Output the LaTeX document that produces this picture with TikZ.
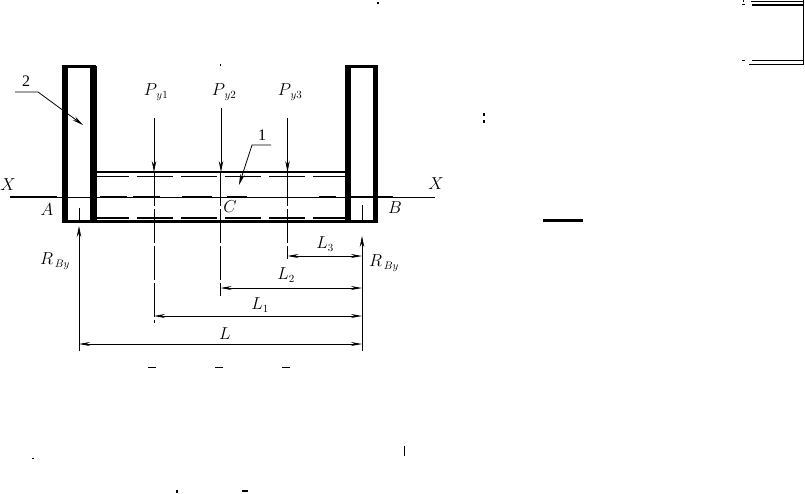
\documentclass[tikz,border=0pt]{standalone}
\usepackage{amsmath}
\usepackage{fontspec}
\setmainfont{Liberation Serif}
\usepackage{tikz}
\usetikzlibrary{
  arrows.meta,
  positioning,
  calc
}

\begin{document}
\begin{tikzpicture}[
    x=1pt,
    y=-1pt,
    font=\fontsize{16}{18}\selectfont,
    label/.style={inner sep=0pt},
    wall/.style={line width=5.5pt},
    tube/.style={line width=2.8pt},
    hidden/.style={line width=1.5pt, dash pattern=on 36pt off 8pt},
    thin line/.style={line width=0.8pt},
    axis bar/.style={line width=1.4pt},
    center/.style={line width=0.8pt, dash pattern=on 34pt off 3pt},
    load/.style={line width=0.8pt, -{Stealth[length=11pt,width=4.5pt]}},
    dim/.style={line width=0.8pt, {Stealth[length=11pt,width=4pt]}-{Stealth[length=11pt,width=4pt]}},
    speck/.style={line width=1.4pt}
]
\useasboundingbox (0,0) rectangle (805,493);

% ----------------------------------------------------------
% WALLS AND TUBE
% ----------------------------------------------------------

\draw[wall] (65,66.5) -- (65,221.5);
\draw[wall, line width=6.5pt] (93.5,66) -- (93.5,221.5);
\draw[wall, line width=3pt] (62,66.5) -- (96,66.5);
\draw[wall, line width=6.5pt] (348,66) -- (348,221.5);
\draw[wall] (375.5,66) -- (375.5,221.5);
\draw[wall, line width=3pt] (345,66.5) -- (378,66.5);

\draw[tube] (96,172) -- (345,172);
\draw[tube, line width=3pt] (62,221.5) -- (378,221.5);
\draw[hidden] (93,176.5) -- (345,176.5);
\draw[hidden] (93,218) -- (345,218);

% ----------------------------------------------------------
% AXIS
% ----------------------------------------------------------

\coordinate (axisL) at (10,197);
\coordinate (axisR) at (435,197);
\draw[thin line] (axisL) -- (axisR);
\foreach \xa/\xb in {10/57, 100/127, 133/160, 182/212, 227/247, 319/336, 350/393}
    \draw[axis bar] (\xa,197) -- (\xb,197);

% ----------------------------------------------------------
% LOADS
% ----------------------------------------------------------

\node[label] (py1) at (156,92) {$P_{\,y1}$};
\node[label] (py2) at (224,92) {$P_{\,y2}$};
\node[label] (py3) at (290,92) {$P_{\,y3}$};

\coordinate (load1) at (154,118);
\coordinate (load2) at (221,108);
\coordinate (load3) at (287.5,118);
\draw[load] (load1) -- (154,172);
\draw[load] (load2) -- (221,172);
\draw[load] (load3) -- (287.5,172);

\draw[center] (154,172) -- (154,323);
\draw[center] (220.5,172) -- (220.5,296);
\draw[center] (287.5,172) -- (287.5,259);

% ----------------------------------------------------------
% REACTIONS
% ----------------------------------------------------------

\coordinate (reactA) at (79,351);
\coordinate (reactB) at (362,351);
\draw[thin line] (79,208) -- (79,221);
\draw[thin line] (362,205) -- (362,221);
\draw[load] (reactA) -- (79,226);
\draw[load] (reactB) -- (362,236);

\node[label] (rleft) at (55,261) {$R_{\,By}$};
\node[label] (rright) at (384,263) {$R_{\,By}$};

% ----------------------------------------------------------
% DIMENSIONS
% ----------------------------------------------------------

\draw[dim] (287.5,256) -- (362,256);
\draw[dim] (220.5,288) -- (362,288);
\draw[dim] (154,316) -- (362,316);
\draw[dim] (79,344) -- (362,344);

\node[label] (l3) at (325,244) {$L_3$};
\node[label] (l2) at (286,275) {$L_2$};
\node[label] (l1) at (260,305) {$L_1$};
\node[label] (l) at (225,334) {$L$};

% ----------------------------------------------------------
% LEADERS AND LETTERS
% ----------------------------------------------------------

\node[label] (two) at (26,81) {2};
\node[label] (one) at (262,135) {1};
\coordinate (lead2) at (15,92);
\coordinate (lead1) at (271,145);
\draw[load] (lead2) -- (38,92) -- (83,125);
\draw[load] (lead1) -- (252,145) -- (239,185);

\node[label] (xl) at (8,185) {$X$};
\node[label] (xr) at (436,184) {$X$};
\node[label] (a) at (47,210) {$A$};
\node[label] (b) at (395,208) {$B$};
\node[label] (c) at (230,207) {$C$};

% ----------------------------------------------------------
% EDGE MARKS
% ----------------------------------------------------------

\draw[line width=1pt] (751,1.5) -- (803,1.5);
\draw[line width=2.4pt] (752,5) -- (803,5);
\draw[line width=1pt] (803.5,0) -- (803.5,64.5);
\draw[line width=1pt] (752,60.5) -- (803,60.5);
\draw[line width=1pt] (749,64.5) -- (803,64.5);
\draw[speck] (742,4.5) -- (745,4.5);
\draw[speck] (742,60.5) -- (745,60.5);
\draw[speck] (743.5,0) -- (743.5,2);
\draw[line width=2.2pt] (543,220.5) -- (583,220.5);
\draw[speck] (484,113) -- (484,116);
\draw[speck] (484,120) -- (484,123);
\draw[speck] (404.5,446) -- (404.5,456);
\draw[speck] (32,458.5) -- (34,458.5);
\draw[speck] (177,490) -- (177,493);
\draw[speck] (242,491) -- (248,491);
\draw[speck] (220.5,64) -- (220.5,66);
\draw[speck] (377,3) -- (379,3);
\foreach \xa in {148, 215, 282}
    \draw[line width=0.8pt] (\xa,367) -- (\xa+8,367);

\end{tikzpicture}
\end{document}
